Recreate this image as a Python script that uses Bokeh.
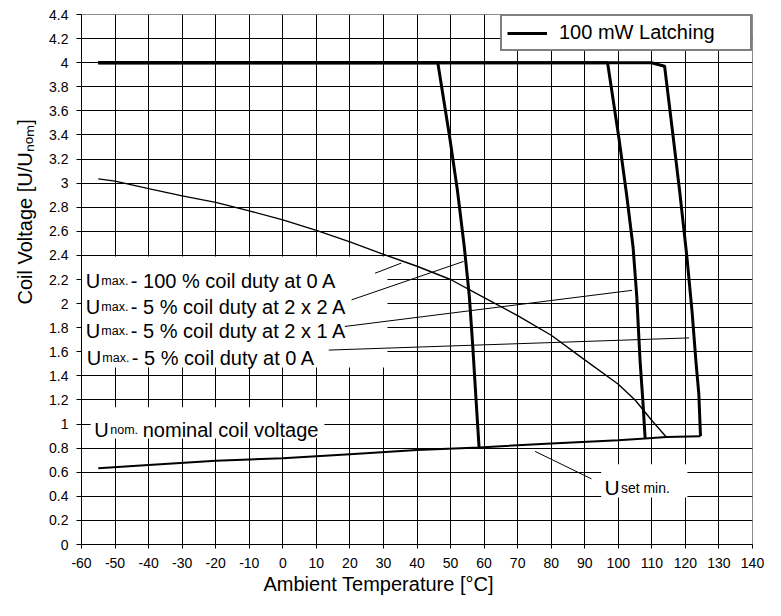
from bokeh.plotting import figure
from bokeh.models import Range1d, FixedTicker, Title
from bokeh.core.properties import value
from bokeh.embed import file_html
from bokeh.resources import INLINE

FONT = "Liberation Sans"

# ---------------- data ----------------
x_ticks = [-60, -50, -40, -30, -20, -10, 0, 10, 20, 30, 40, 50, 60, 70, 80, 90, 100, 110, 120, 130, 140]
x_tick_labels = ["-60", "-50", "-40", "-30", "-20", "-10", "0", "10", "20", "30", "40", "50",
                 "60", "70", "80", "90", "100", "110", "120", "130", "140"]
y_ticks = [0.0, 0.2, 0.4, 0.6, 0.8, 1.0, 1.2, 1.4, 1.6, 1.8, 2.0, 2.2, 2.4, 2.6, 2.8, 3.0,
           3.2, 3.4, 3.6, 3.8, 4.0, 4.2, 4.4]
y_tick_labels = ["0", "0.2", "0.4", "0.6", "0.8", "1", "1.2", "1.4", "1.6", "1.8", "2", "2.2",
                 "2.4", "2.6", "2.8", "3", "3.2", "3.4", "3.6", "3.8", "4", "4.2", "4.4"]

x_title = "Ambient Temperature [°C]"
y_title = "Coil Voltage [U/Uₙₒₘ]"

# 100 mW latching: Umax curves (thick)
latch_a_x = [-55, 46.2, 49.8, 52.0, 54.1, 55.6, 56.6, 57.5, 58.5]
latch_a_y = [4.0, 4.0, 3.37, 2.95, 2.47, 2.06, 1.655, 1.247, 0.806]
latch_b_x = [-55, 96.8, 100.2, 102.5, 104.4, 105.5, 106.5, 107.3, 108.0]
latch_b_y = [4.0, 4.0, 3.37, 2.9, 2.47, 2.06, 1.52, 1.2, 0.88]
latch_c_x = [-55, 109.9, 113.8, 116.2, 118.3, 120.4, 122.0, 123.2, 124.0, 124.5]
latch_c_y = [4.0, 4.0, 3.97, 3.42, 2.93, 2.4, 1.93, 1.5, 1.25, 0.9]

# Umax 100 % coil duty at 0 A (thin)
duty_x = [-55, -50, -40, -30, -20, -10, 0, 10, 20, 30, 40, 50, 60, 70, 80, 90, 100, 105, 110, 114.3]
duty_y = [3.035, 3.017, 2.954, 2.894, 2.84, 2.77, 2.695, 2.608, 2.513, 2.409, 2.31, 2.2, 2.05,
          1.9, 1.737, 1.533, 1.33, 1.2, 1.03, 0.893]

# Uset min.
uset_x = [-55, -40, -20, 0, 20, 40, 58.5, 80, 100, 108, 114.3, 124.5]
uset_y = [0.632, 0.66, 0.695, 0.716, 0.75, 0.784, 0.806, 0.839, 0.866, 0.88, 0.893, 0.898]

# leader lines (label -> curve)
lead_x0 = [27.5, 20.5, 18.5, 13.7, 75.2]
lead_y0 = [2.252, 2.031, 1.81, 1.614, 0.773]
lead_x1 = [35.3, 53.9, 104.1, 121.1, 92.0]
lead_y1 = [2.336, 2.35, 2.11, 1.715, 0.545]

# white label backgrounds
box_left = [-60, -57.3, 94.9]
box_right = [31.2, 12.4, 120.6]
box_bottom = [1.47, 0.88, 0.39]
box_top = [2.39, 1.14, 0.667]

# labels: main letter, subscript, rest
umax_x = [-58.7, -58.7, -58.7, -58.4]
umax_y = [2.186, 1.974, 1.77, 1.552]
umax_rest = ["- 100 % coil duty at 0 A", "- 5 % coil duty at 2 x 2 A",
             "- 5 % coil duty at 2 x 1 A", "- 5 % coil duty at 0 A"]

# ---------------- figure ----------------
p = figure(width=765, height=600, x_range=Range1d(-60, 140), y_range=Range1d(0, 4.4),
           output_backend="svg", toolbar_location=None,
           min_border_left=79, min_border_right=13, min_border_top=14, min_border_bottom=56)
p.background_fill_color = "white"
p.border_fill_color = "white"
p.outline_line_color = "#8c8c8c"
p.outline_line_width = 1

p.xaxis.ticker = FixedTicker(ticks=x_ticks)
p.yaxis.ticker = FixedTicker(ticks=y_ticks)
p.xaxis.major_label_overrides = dict(zip(x_ticks, x_tick_labels))
p.yaxis.major_label_overrides = dict(zip(y_ticks, y_tick_labels))
p.xgrid.ticker = FixedTicker(ticks=x_ticks[:-1])
p.ygrid.ticker = FixedTicker(ticks=y_ticks[:-1])
for g in (p.xgrid, p.ygrid):
    g.grid_line_color = "black"
    g.grid_line_width = 1
    g.grid_line_alpha = 1

for ax in (p.xaxis, p.yaxis):
    ax.axis_line_color = "black"
    ax.axis_line_width = 1
    ax.major_tick_line_color = "black"
    ax.major_tick_in = 0
    ax.minor_tick_line_color = None
    ax.major_label_text_font = FONT
    ax.major_label_text_font_size = "14px"
    ax.major_label_text_color = "black"
p.xaxis.major_tick_out = 4
p.xaxis.major_label_standoff = 9
p.yaxis.major_tick_out = 5
p.yaxis.major_label_standoff = 8

# white backgrounds behind annotation texts
p.quad(left=box_left, right=box_right, bottom=box_bottom, top=box_top,
       fill_color="white", line_color=None)

# thin lines
p.segment(x0=lead_x0, y0=lead_y0, x1=lead_x1, y1=lead_y1, line_color="black", line_width=1)
p.line(duty_x, duty_y, line_color="black", line_width=1.4)
p.line(uset_x, uset_y, line_color="black", line_width=2)

# thick latching curves
p.multi_line([latch_a_x, latch_b_x, latch_c_x], [latch_a_y, latch_b_y, latch_c_y],
             line_color="black", line_width=3, line_join="round",
             legend_label="100 mW Latching")

big = dict(text_font=value(FONT), text_font_size="20px", text_color="black",
           text_baseline="alphabetic", text_align="left")
sub = dict(text_font=value(FONT), text_font_size="12.5px", text_color="black",
           text_baseline="alphabetic", text_align="left")
sub14 = dict(text_font=value(FONT), text_font_size="14px", text_color="black",
             text_baseline="alphabetic", text_align="left")

# Umax labels
p.text(x=umax_x, y=umax_y, text=["U"] * 4, **big)
p.text(x=umax_x, y=umax_y, text=["max."] * 4, x_offset=15.5, **sub)
p.text(x=umax_x, y=umax_y, text=umax_rest, x_offset=45, **big)

# Unom label
p.text(x=[-56.2], y=[0.947], text=["U"], **big)
p.text(x=[-56.2], y=[0.947], text=["nom."], x_offset=16, **sub)
p.text(x=[-56.2], y=[0.947], text=["nominal coil voltage"], x_offset=48.5, **big)

# Uset label
p.text(x=[95.85], y=[0.4715], text=["U"], text_font=value(FONT), text_font_size="21px",
       text_color="black", text_baseline="alphabetic", text_align="left")
p.text(x=[95.85], y=[0.4715], text=["set min."], x_offset=16.5, **sub14)

# legend
lg = p.legend[0]
lg.location = "top_right"
lg.margin = 0
lg.padding = 5
lg.spacing = 0
lg.glyph_width = 40
lg.glyph_height = 20
lg.label_standoff = 12
lg.label_width = 186
lg.label_height = 20
lg.label_text_font = FONT
lg.label_text_font_size = "20px"
lg.label_text_color = "black"
lg.border_line_color = "black"
lg.border_line_width = 2
lg.background_fill_color = "white"
lg.background_fill_alpha = 1

# axis titles as side-panel titles (offset along the axis like the reference)
p.add_layout(Title(text=x_title, align="left", offset=182, vertical_align="top", standoff=4,
                   text_font=FONT, text_font_size="20px", text_font_style="normal",
                   text_color="black"), "below")
p.add_layout(Title(text=y_title, align="left", offset=240, vertical_align="bottom", standoff=22,
                   text_font=FONT, text_font_size="20px", text_font_style="normal",
                   text_color="black"), "left")

open("out.html", "w").write(file_html(p, INLINE))
